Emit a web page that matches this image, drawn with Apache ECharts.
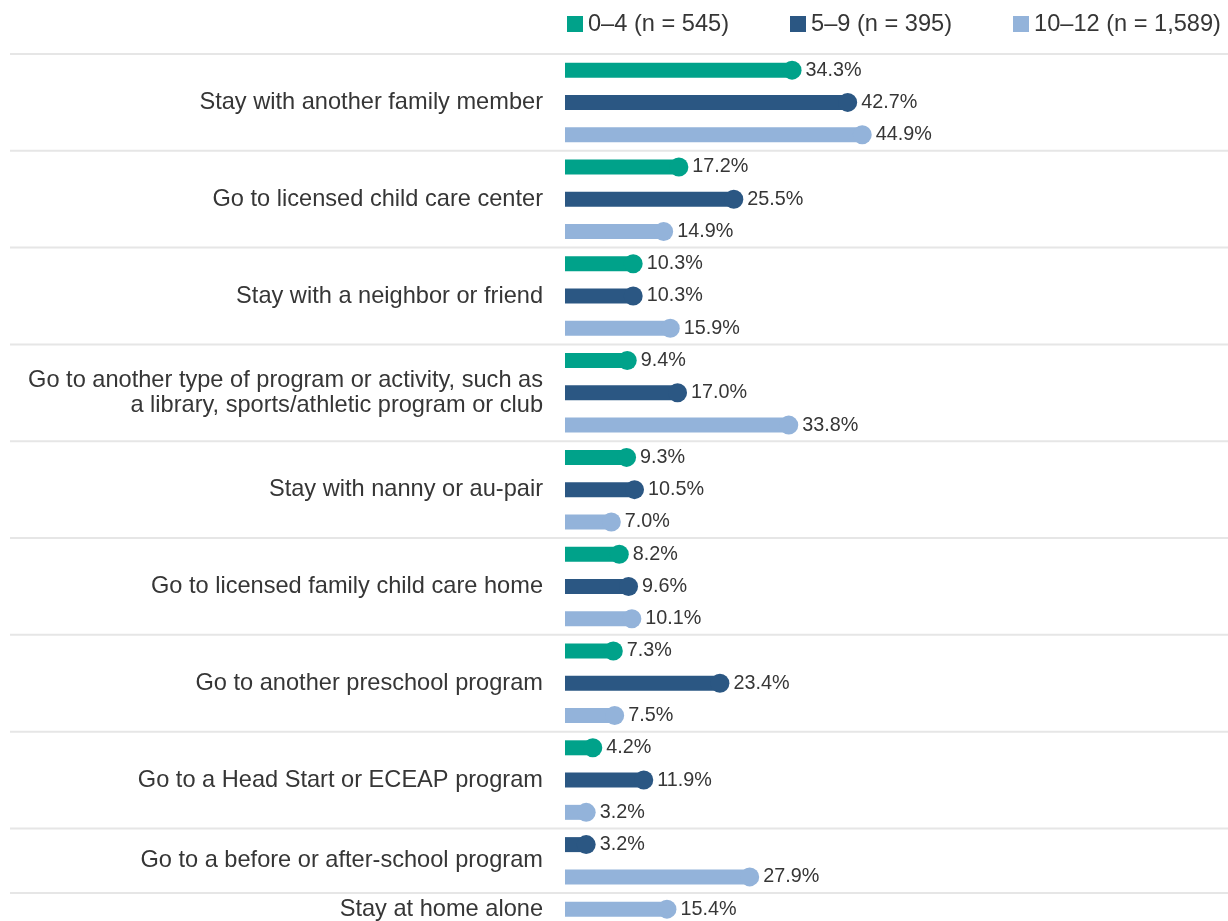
<!DOCTYPE html>
<html>
<head>
<meta charset="utf-8">
<script src="https://cdn.jsdelivr.net/npm/echarts@6/dist/echarts.min.js"></script>
<style>
html,body{margin:0;padding:0;background:#fff;}
#chart{width:1228px;height:921px;}
</style>
</head>
<body>
<div id="chart"></div>
<script>
const categories = [
  'Stay with another family member',
  'Go to licensed child care center',
  'Stay with a neighbor or friend',
  'Go to another type of program or activity, such as\na library, sports/athletic program or club',
  'Stay with nanny or au-pair',
  'Go to licensed family child care home',
  'Go to another preschool program',
  'Go to a Head Start or ECEAP program',
  'Go to a before or after-school program',
  'Stay at home alone'
];
const seriesNames = ['0\u20134 (n = 545)', '5\u20139 (n = 395)', '10\u201312 (n = 1,589)'];
const age04 = [34.3, 17.2, 10.3, 9.4, 9.3, 8.2, 7.3, 4.2, null, null];
const age59 = [42.7, 25.5, 10.3, 17.0, 10.5, 9.6, 23.4, 11.9, 3.2, null];
const age1012 = [44.9, 14.9, 15.9, 33.8, 7.0, 10.1, 7.5, 3.2, 27.9, 15.4];
const colors = ['#00a28a', '#2b5783', '#93b3da'];

const allSeries = [age04, age59, age1012];
const rows = [];
const groups = [];
categories.forEach((c, i) => {
  const start = rows.length;
  allSeries.forEach((s, k) => { if (s[i] != null) rows.push({k: k, v: s[i]}); });
  groups.push({name: c, start: start, end: rows.length});
});
const nRows = rows.length;
const boundaries = groups.map(g => g.start);

const FONT = "'Liberation Sans', Arial, sans-serif";
const TEXT = '#363636';
const rowH = 32.27;

const series = [];
allSeries.forEach((s, k) => {
  series.push({
    type: 'bar', name: seriesNames[k], xAxisIndex: 0, yAxisIndex: 0,
    data: rows.map(r => r.k === k ? r.v : '-'),
    barWidth: 15, barGap: '-100%', itemStyle: {color: colors[k], opacity: 1}, z: 2
  });
});
allSeries.forEach((s, k) => {
  series.push({
    type: 'scatter', name: seriesNames[k], xAxisIndex: 0, yAxisIndex: 0,
    data: rows.map((r, j) => r.k === k ? [r.v, j] : null).filter(d => d),
    symbol: 'circle', symbolSize: 19, itemStyle: {color: colors[k], opacity: 1}, z: 3,
    label: {show: true, position: 'right', distance: 4, fontSize: 19.8, fontFamily: FONT, color: TEXT, opacity: 1,
      formatter: p => p.value[0].toFixed(1) + '%'}
  });
});
series.push({
  type: 'scatter', name: 'groupLabels', xAxisIndex: 0, yAxisIndex: 1,
  data: groups.map(g => [0, (g.start + g.end) / 2]),
  symbolSize: 0, silent: true, itemStyle: {opacity: 1},
  label: {show: true, position: 'left', distance: 22, fontSize: 23.6, lineHeight: 25, fontFamily: FONT, color: TEXT,
    opacity: 1, align: 'right', formatter: p => groups[p.dataIndex].name}
});
series.push({
  type: 'custom', name: 'separators', xAxisIndex: 1, yAxisIndex: 2, silent: true,
  data: boundaries.map(b => [0, b]),
  renderItem: (params, api) => {
    const y = api.coord([0, api.value(1)])[1];
    const cs = params.coordSys;
    return {type: 'line', shape: {x1: cs.x, y1: y, x2: cs.x + cs.width, y2: y},
      style: {stroke: '#e6e6e6', lineWidth: 2}};
  }, z: 1
});

const chart = echarts.init(document.getElementById('chart'), null, {renderer: 'canvas'});
chart.setOption({
  animation: false,
  textStyle: {fontFamily: FONT},
  legend: {
    data: seriesNames, top: 7, left: 562, icon: 'rect', itemWidth: 16, itemHeight: 16, itemGap: 61,
    textStyle: {fontSize: 23.6, color: TEXT, fontFamily: FONT}
  },
  grid: [
    {left: 565, right: 1, top: 54, height: rowH * nRows, outerBoundsMode: 'none'},
    {left: 10, right: 0, top: 54, height: rowH * nRows, outerBoundsMode: 'none'}
  ],
  xAxis: [
    {type: 'value', gridIndex: 0, min: 0, max: 100, show: false},
    {type: 'value', gridIndex: 1, min: 0, max: 1, show: false}
  ],
  yAxis: [
    {type: 'category', gridIndex: 0, inverse: true, data: rows.map((r, j) => String(j)), show: false},
    {type: 'value', gridIndex: 0, inverse: true, min: 0, max: nRows, show: false},
    {type: 'value', gridIndex: 1, inverse: true, min: 0, max: nRows, show: false}
  ],
  series: series
});
</script>
</body>
</html>
